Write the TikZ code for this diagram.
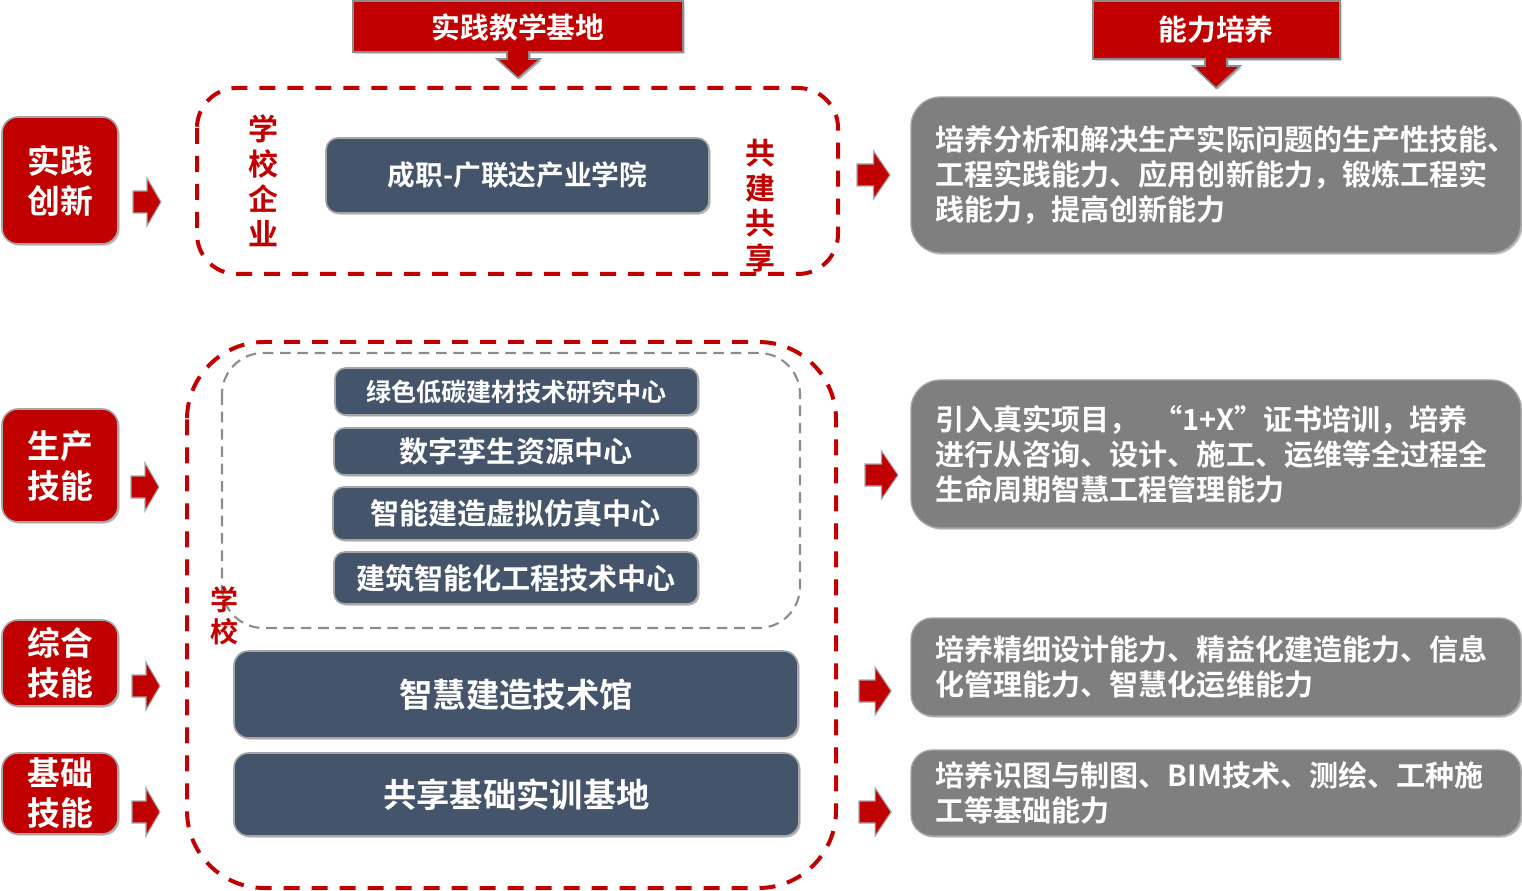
\documentclass[tikz,border=0pt]{standalone}
\usepackage{fontspec}
\setmainfont{Noto Sans CJK SC}[BoldFont={Noto Sans CJK SC Bold}]
\usetikzlibrary{fit,shadows}
\definecolor{cred}{HTML}{C00000}
\definecolor{slate}{HTML}{44546A}
\definecolor{boxgray}{HTML}{7F7F7F}
\definecolor{rimgray}{HTML}{A6A6A6}
\definecolor{dashgray}{HTML}{8C8C8C}
\tikzset{
  rarrow/.pic={\draw[draw=rimgray, line width=0.8pt, fill=cred]
     (0,-11)--(14,-11)--(14,-24)--(28,0)--(14,24)--(14,11)--(0,11)--cycle;},
  shade1/.style={drop shadow={shadow xshift=1.2pt, shadow yshift=-1.2pt, opacity=0.25, fill=black}},
  redbox/.style={draw=rimgray, line width=1.2pt, fill=cred, rounded corners=12pt, shade1},
  redtext/.style={text=white, align=center, font=\bfseries\fontsize{24.6}{30}\selectfont},
  slatebox/.style={draw=rimgray, line width=1.2pt, fill=slate, rounded corners=8pt, shade1},
  slatetext/.style={text=white, align=center, font=\bfseries\fontsize{21.8}{26}\selectfont},
  bigtext/.style={slatetext, font=\bfseries\fontsize{25}{30}\selectfont},
  graybox/.style={draw=rimgray, line width=1pt, fill=boxgray, rounded corners=22pt, shade1},
  graytext/.style={text=white, align=left, text width=421pt, font=\bfseries\fontsize{21.8}{26.3}\selectfont},
  vtext/.style={text=cred, align=center, font=\bfseries\fontsize{22.5}{26.25}\selectfont},
  reddash/.style={draw=cred, line width=3pt, dash pattern=on 12pt off 9pt},
  graydash/.style={draw=dashgray, line width=1.6pt, dash pattern=on 8pt off 5pt},
  header/.style={draw=dashgray, line width=1.2pt, fill=cred, shade1},
  headtext/.style={text=white, font=\bfseries\fontsize{21.6}{26}\selectfont}
}
\begin{document}
\begin{tikzpicture}[x=0.75pt,y=-0.75pt, every node/.style={inner sep=0pt}]
\useasboundingbox (0,0) rectangle (1522,891);

% headers (callout with down arrow)
\path[header] (353,1)--(683,1)--(683,52)--(529,52)--(529,59)--(540,59)--(518,78)
   --(497,59)--(507,59)--(507,52)--(353,52)--cycle;
\node[headtext] (h1) at (518,27) {实践教学基地};
\path[header] (1093,1)--(1340,1)--(1340,59)--(1227,59)--(1227,66)--(1240,66)--(1216,88)
   --(1193,66)--(1205,66)--(1205,59)--(1093,59)--cycle;
\node[headtext] (h2) at (1216,30) {能力培养};

% left red boxes
\node[redbox, fit={(2,117)(118,244)}, label={[redtext]center:{实践\\创新}}] (l1) {};
\node[redbox, fit={(2,409)(118,522)}, label={[redtext]center:{生产\\技能}}] (l2) {};
\node[redbox, fit={(2,620)(118,706)}, label={[redtext]center:{综合\\技能}}] (l3) {};
\node[redbox, fit={(2,753)(118,834)}, label={[redtext]center:{基础\\技能}}] (l4) {};

% left arrows
\pic at (133,202) {rarrow};
\pic at (131,487) {rarrow};
\pic at (132,686) {rarrow};
\pic at (132,812) {rarrow};

% top dashed group
\draw[reddash, rounded corners=30pt] (197,88) rectangle (838,274);
\node[vtext] (v1) at (263,180.5) {学\\校\\企\\业};
\node[vtext] (v2) at (760,205.5) {共\\建\\共\\享};
\node[slatebox, rounded corners=9pt, fit={(326,138)(709,213)},
      label={[slatetext, font=\bfseries\fontsize{20.8}{26}\selectfont]center:成职-广联达产业学院}] (s0) {};

% lower dashed group
\draw[reddash, rounded corners=58pt] (187,342) rectangle (836,888);
\draw[graydash, rounded corners=31pt] (222,353) rectangle (800,628);
\node[slatebox, fit={(335,368)(698,415)},
      label={[slatetext, font=\bfseries\fontsize{18.8}{24}\selectfont]center:绿色低碳建材技术研究中心}] (s1) {};
\node[slatebox, fit={(334,428)(698,475)}, label={[slatetext]center:数字孪生资源中心}] (s2) {};
\node[slatebox, fit={(333,487)(698,540)}, label={[slatetext]center:智能建造虚拟仿真中心}] (s3) {};
\node[slatebox, fit={(334,552)(698,604)}, label={[slatetext]center:建筑智能化工程技术中心}] (s4) {};
\node[vtext, font=\bfseries\fontsize{21}{24}\selectfont] (v3) at (224,616) {学\\校};
\node[slatebox, rounded corners=11pt, fit={(234,651)(798,738)}, label={[bigtext]center:智慧建造技术馆}] (s5) {};
\node[slatebox, rounded corners=11pt, fit={(234,753)(799,836)}, label={[bigtext]center:共享基础实训基地}] (s6) {};

% right arrows
\pic[xscale=1.18] at (857,175) {rarrow};
\pic[xscale=1.18] at (865,475) {rarrow};
\pic[xscale=1.15] at (859,691) {rarrow};
\pic[xscale=1.15] at (859,812) {rarrow};

% right gray boxes
\node[graybox, fit={(911,97)(1521,253)},
  label={[graytext]center:{培养分析和解决生产实际问题的生产性技能、\\工程实践能力、应用创新能力，锻炼工程实\\践能力，提高创新能力}}] (r1) {};
\node[graybox, fit={(911,380)(1521,528)},
  label={[graytext]center:{引入真实项目，\enspace“1+X”证书培训，培养\\进行从咨询、设计、施工、运维等全过程全\\生命周期智慧工程管理能力}}] (r2) {};
\node[graybox, rounded corners=16pt, fit={(911,618)(1521,716)},
  label={[graytext]center:{培养精细设计能力、精益化建造能力、信息\\化管理能力、智慧化运维能力}}] (r3) {};
\node[graybox, rounded corners=16pt, fit={(911,750)(1521,836)},
  label={[graytext]center:{培养识图与制图、BIM技术、测绘、工种施\\工等基础能力}}] (r4) {};
\end{tikzpicture}
\end{document}
